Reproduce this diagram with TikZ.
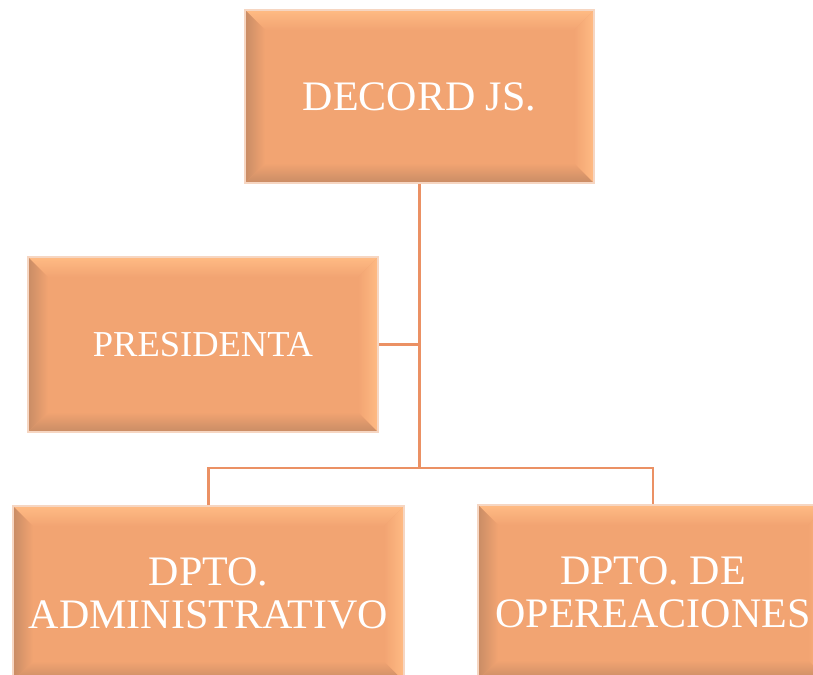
\documentclass[tikz,border=0pt]{standalone}
\usepackage{fontspec}
\setmainfont{Liberation Serif}
\usetikzlibrary{calc}
\definecolor{boxfill}{HTML}{F2A472}
\definecolor{boxedge}{HTML}{F6D6C2}
\definecolor{bevdark}{HTML}{C98C65}
\definecolor{bevlight}{HTML}{FFBB84}
\definecolor{conn}{HTML}{EB9164}
\tikzset{
  bevelbox/.style={draw=boxedge, line width=2pt, fill=boxfill, inner sep=0pt,
    text=white, align=center, font=\fontsize{42}{43}\selectfont,
    path picture={
      \coordinate (bbnw) at (path picture bounding box.north west);
      \coordinate (bbne) at (path picture bounding box.north east);
      \coordinate (bbsw) at (path picture bounding box.south west);
      \coordinate (bbse) at (path picture bounding box.south east);
      \coordinate (inw) at ($(bbnw)+(20pt,-20pt)$);
      \coordinate (ine) at ($(bbne)+(-20pt,-20pt)$);
      \coordinate (isw) at ($(bbsw)+(20pt,20pt)$);
      \coordinate (ise) at ($(bbse)+(-20pt,20pt)$);
      \shade[top color=bevlight, bottom color=boxfill] (bbnw) -- (bbne) -- (ine) -- (inw) -- cycle;
      \shade[top color=boxfill, bottom color=bevdark] (bbsw) -- (bbse) -- (ise) -- (isw) -- cycle;
      \shade[left color=bevdark, right color=boxfill] (bbnw) -- (inw) -- (isw) -- (bbsw) -- cycle;
      \shade[left color=boxfill, right color=bevlight] (bbne) -- (ine) -- (ise) -- (bbse) -- cycle;
    }},
  orgline/.style={draw=conn, line width=2.5pt}
}
\begin{document}
\begin{tikzpicture}[x=1pt, y={(0pt,-1pt)}]
\useasboundingbox (0,0) rectangle (813,674);
\clip (0,0) rectangle (813,674);
\node[bevelbox, minimum width=349pt, minimum height=173pt] (top) at (419.5,96.5) {DECORD JS.};
\node[bevelbox, minimum width=350pt, minimum height=175pt, font=\fontsize{36.5}{38}\selectfont] (pres) at (203,344.5) {PRESIDENTA};
\node[bevelbox, minimum width=391pt, minimum height=175pt] (adm) at (208.5,593.5) {DPTO.\\ADMINISTRATIVO};
\node[bevelbox, minimum width=350pt, minimum height=175pt] (ope) at (653,592.5) {DPTO. DE\\OPEREACIONES};
\coordinate (j1) at (top.south |- pres.east);
\coordinate (j2) at ($(top.south |- adm.north)+(0pt,37pt)$);
\draw[orgline] (top.south) -- (j2);
\draw[orgline] (pres.east) -- (j1);
\draw[orgline] (adm.north) |- (j2) -| (ope.north);
\end{tikzpicture}
\end{document}
